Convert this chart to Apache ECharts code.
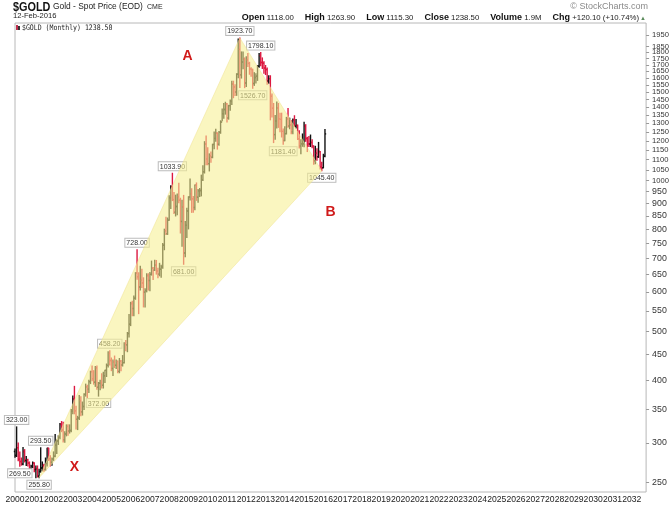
<!DOCTYPE html>
<html>
<head>
<meta charset="utf-8">
<script src="https://cdn.jsdelivr.net/npm/echarts@6/dist/echarts.min.js"></script>
<style>
html, body { margin: 0; padding: 0; background: #fff; }
#chart { width: 672px; height: 509px; }
</style>
</head>
<body>
<div id="chart"></div>
<script>
// monthly bars, Jan 2000 .. Feb 2016 (index 0 = Jan 2000)
const opens = [
  288.5, 283.3, 293.7, 278.4, 275.5, 272.3, 288.5, 276.8, 277.8, 273.6, 264.2, 269.8,
  273.6, 265.6, 266.7, 257.7, 263.2, 267.5, 270.6, 265.6, 273.0, 292.8, 279.0, 274.6,
  278.7, 282.3, 297.0, 302.7, 308.2, 326.7, 318.5, 304.5, 312.7, 323.7, 316.9, 317.7,
  347.2, 367.5, 347.7, 334.6, 336.5, 364.1, 346.0, 354.7, 375.0, 388.0, 384.0, 397.5,
  416.2, 402.8, 396.5, 423.7, 387.5, 394.6, 395.8, 390.9, 408.5, 418.6, 428.2, 452.5,
  438.0, 422.2, 434.5, 428.5, 436.3, 416.7, 436.6, 429.1, 433.8, 473.3, 470.6, 495.7,
  517.2, 568.8, 556.0, 582.9, 654.2, 643.2, 613.5, 633.2, 625.1, 599.3, 603.9, 646.8,
  632.0, 650.2, 669.0, 663.0, 678.3, 660.2, 650.9, 665.5, 672.5, 743.0, 794.4, 783.5,
  833.8, 924.1, 971.5, 916.2, 864.8, 887.4, 928.4, 913.4, 828.9, 886.9, 717.1, 814.5,
  869.8, 927.2, 941.2, 919.2, 883.8, 978.8, 926.4, 953.5, 955.3, 1003.5, 1041.0, 1182.4,
  1104.0, 1080.7, 1118.9, 1112.5, 1180.0, 1213.2, 1242.2, 1180.9, 1248.3, 1307.5, 1358.8, 1384.9,
  1421.4, 1332.5, 1409.9, 1439.1, 1556.6, 1536.2, 1500.4, 1628.3, 1825.3, 1623.7, 1722.0, 1746.4,
  1563.7, 1737.6, 1711.3, 1668.6, 1663.7, 1560.5, 1604.2, 1614.1, 1689.9, 1773.6, 1718.8, 1712.6,
  1675.3, 1663.5, 1578.9, 1595.7, 1472.1, 1393.0, 1234.6, 1313.5, 1396.2, 1327.0, 1323.6, 1253.0,
  1201.9, 1240.0, 1326.5, 1283.8, 1291.7, 1250.2, 1322.2, 1282.8, 1287.6, 1210.5, 1171.8, 1182.9,
  1183.9, 1283.7, 1212.6, 1183.1, 1182.4, 1190.6, 1171.9, 1095.2, 1133.2, 1115.1, 1142.2, 1064.2,
  1060.2, 1118.0
];
const highs = [
  292.0, 323.0, 300.0, 288.0, 280.0, 294.0, 291.0, 282.0, 278.5, 275.0, 271.0, 275.0,
  274.0, 270.0, 270.0, 266.0, 293.5, 275.0, 272.0, 280.0, 293.0, 293.0, 283.0, 280.0,
  288.0, 312.0, 304.0, 310.0, 328.0, 331.0, 330.0, 316.0, 326.0, 326.0, 326.0, 350.0,
  372.0, 389.0, 355.0, 339.0, 373.0, 371.0, 362.0, 376.0, 393.0, 391.0, 400.0, 417.0,
  427.0, 418.0, 426.0, 427.0, 396.0, 400.0, 412.0, 415.0, 419.0, 431.0, 456.0, 458.2,
  443.0, 439.0, 447.0, 439.0, 437.0, 442.0, 438.0, 448.0, 475.0, 480.0, 498.0, 541.0,
  572.0, 575.0, 589.0, 655.0, 728.0, 655.0, 675.0, 666.0, 640.0, 609.0, 652.0, 652.0,
  656.0, 691.0, 671.0, 694.0, 693.0, 669.0, 684.0, 678.0, 749.0, 800.0, 845.0, 842.0,
  932.0, 976.0, 1033.9, 947.0, 935.0, 940.0, 988.0, 922.0, 913.0, 934.0, 829.0, 881.0,
  928.0, 1007.0, 963.0, 929.0, 980.0, 989.0, 960.0, 964.0, 1025.0, 1070.0, 1195.0, 1227.0,
  1162.0, 1130.0, 1140.0, 1181.0, 1249.0, 1265.0, 1245.0, 1252.0, 1315.0, 1388.0, 1424.0, 1432.0,
  1424.0, 1412.0, 1447.0, 1576.0, 1577.0, 1552.0, 1632.0, 1913.0, 1923.7, 1804.0, 1803.0, 1755.0,
  1764.0, 1791.0, 1720.0, 1678.0, 1666.0, 1640.0, 1631.0, 1693.0, 1790.0, 1798.1, 1755.0, 1724.0,
  1695.0, 1675.0, 1617.0, 1617.0, 1488.0, 1424.0, 1348.0, 1434.0, 1424.0, 1361.0, 1362.0, 1267.0,
  1280.0, 1336.0, 1392.0, 1331.0, 1315.0, 1326.0, 1346.0, 1323.0, 1290.0, 1256.0, 1205.0, 1238.0,
  1307.0, 1292.0, 1219.0, 1224.0, 1232.0, 1205.0, 1172.0, 1170.0, 1157.0, 1191.0, 1143.0, 1088.0,
  1128.0, 1263.9
];
const lows = [
  281.0, 282.0, 276.5, 269.5, 271.0, 271.5, 275.0, 270.5, 270.0, 263.8, 263.9, 268.0,
  263.0, 255.9, 256.6, 255.8, 262.5, 264.0, 263.5, 265.0, 270.0, 277.0, 270.0, 271.0,
  277.0, 281.5, 286.0, 298.0, 306.0, 316.0, 301.5, 301.0, 310.0, 311.0, 314.0, 316.0,
  343.0, 343.0, 320.0, 319.0, 334.0, 340.0, 341.0, 350.0, 372.0, 369.0, 378.0, 394.0,
  399.0, 393.0, 389.0, 384.0, 372.0, 383.0, 386.0, 386.0, 396.0, 407.0, 425.0, 429.0,
  418.0, 409.0, 424.0, 422.0, 414.0, 414.0, 418.0, 427.0, 433.0, 458.0, 456.0, 488.0,
  514.0, 538.0, 538.0, 580.0, 636.0, 543.0, 605.0, 612.0, 560.0, 560.0, 600.0, 605.0,
  603.0, 648.0, 635.0, 662.0, 651.0, 640.0, 646.0, 642.0, 669.0, 728.0, 781.0, 781.0,
  833.0, 880.0, 912.0, 860.0, 850.0, 855.0, 903.0, 786.0, 740.0, 681.0, 705.0, 770.0,
  801.0, 915.0, 864.0, 865.0, 875.0, 913.0, 905.0, 929.0, 932.0, 1000.0, 1035.0, 1075.0,
  1075.0, 1045.0, 1087.0, 1110.0, 1157.0, 1198.0, 1155.0, 1175.0, 1242.0, 1315.0, 1331.0, 1356.0,
  1308.0, 1325.0, 1381.0, 1417.0, 1462.0, 1477.0, 1478.0, 1603.0, 1532.0, 1600.0, 1669.0, 1531.0,
  1540.0, 1688.0, 1628.0, 1613.0, 1526.7, 1547.0, 1565.0, 1583.0, 1682.0, 1692.0, 1672.0, 1636.0,
  1626.0, 1555.0, 1563.0, 1321.0, 1338.0, 1190.0, 1208.0, 1272.0, 1276.0, 1251.0, 1221.0, 1181.4,
  1200.0, 1238.0, 1277.0, 1268.0, 1240.0, 1240.0, 1282.0, 1272.0, 1207.0, 1161.0, 1131.0, 1170.0,
  1167.0, 1197.0, 1142.0, 1169.0, 1169.0, 1162.0, 1077.0, 1080.0, 1097.0, 1112.0, 1054.0, 1045.4,
  1060.0, 1115.3
];
const closes = [
  283.3, 293.7, 278.4, 275.5, 272.3, 288.5, 276.8, 277.8, 273.6, 264.2, 269.8, 273.6,
  265.6, 266.7, 257.7, 263.2, 267.5, 270.6, 265.6, 273.0, 292.8, 279.0, 274.6, 278.7,
  282.3, 297.0, 302.7, 308.2, 326.7, 318.5, 304.5, 312.7, 323.7, 316.9, 317.7, 347.2,
  367.5, 347.7, 334.6, 336.5, 364.1, 346.0, 354.7, 375.0, 388.0, 384.0, 397.5, 416.2,
  402.8, 396.5, 423.7, 387.5, 394.6, 395.8, 390.9, 408.5, 418.6, 428.2, 452.5, 438.0,
  422.2, 434.5, 428.5, 436.3, 416.7, 436.6, 429.1, 433.8, 473.3, 470.6, 495.7, 517.2,
  568.8, 556.0, 582.9, 654.2, 643.2, 613.5, 633.2, 625.1, 599.3, 603.9, 646.8, 632.0,
  650.2, 669.0, 663.0, 678.3, 660.2, 650.9, 665.5, 672.5, 743.0, 794.4, 783.5, 833.8,
  924.1, 971.5, 916.2, 864.8, 887.4, 928.4, 913.4, 828.9, 886.9, 717.1, 814.5, 869.8,
  927.2, 941.2, 919.2, 883.8, 978.8, 926.4, 953.5, 955.3, 1003.5, 1041.0, 1182.4, 1104.0,
  1080.7, 1118.9, 1112.5, 1180.0, 1213.2, 1242.2, 1180.9, 1248.3, 1307.5, 1358.8, 1384.9, 1421.4,
  1332.5, 1409.9, 1439.1, 1556.6, 1536.2, 1500.4, 1628.3, 1825.3, 1623.7, 1722.0, 1746.4, 1563.7,
  1737.6, 1711.3, 1668.6, 1663.7, 1560.5, 1604.2, 1614.1, 1689.9, 1773.6, 1718.8, 1712.6, 1675.3,
  1663.5, 1578.9, 1595.7, 1472.1, 1393.0, 1234.6, 1313.5, 1396.2, 1327.0, 1323.6, 1253.0, 1201.9,
  1240.0, 1326.5, 1283.8, 1291.7, 1250.2, 1322.2, 1282.8, 1287.6, 1210.5, 1171.8, 1182.9, 1183.9,
  1283.7, 1212.6, 1183.1, 1182.4, 1190.6, 1171.9, 1095.2, 1133.2, 1115.1, 1142.2, 1064.2, 1060.2,
  1118.4, 1238.5
];

// swing labels (month index, price)
const peakMonths = [1, 16, 59, 76, 98, 140, 153];
const peakValues = [323.0, 293.5, 458.2, 728.0, 1033.9, 1923.7, 1798.1];
const troughMonths = [3, 15, 52, 105, 148, 167, 191];
const troughValues = [269.5, 255.8, 372.0, 681.0, 1526.7, 1181.4, 1045.4];

// X-A-B pattern
const xabMonths = [15, 140, 191];
const xabValues = [255.8, 1923.7, 1045.4];
const xabNames = ['X', 'A', 'B'];
const xabLetterMonths = [37, 107.5, 196.5];
const xabLetterValues = [269, 1770, 865];

const yTicks = [250, 300, 350, 400, 450, 500, 550, 600, 650, 700, 750, 800, 850, 900, 950,
  1000, 1050, 1100, 1150, 1200, 1250, 1300, 1350, 1400, 1450, 1500, 1550, 1600, 1650, 1700,
  1750, 1800, 1850, 1900, 1950];
const xYears = [];
for (let y = 2000; y <= 2032; y++) xYears.push(y);

const toX = m => 2000 + m / 12;
const RED = '#dc1840';
const BLACK = '#111';
const FONT = 'Liberation Sans';

const bars = opens.map((o, i) => [toX(i), o, highs[i], lows[i], closes[i],
  i > 0 && closes[i] < closes[i - 1] ? 1 : 0]);

const chart = echarts.init(document.getElementById('chart'));

function swingLabel(below) {
  return (params, api) => {
    const p = api.coord([api.value(0), api.value(1)]);
    return {
      type: 'text', x: p[0], y: below ? p[1] + 3 : p[1] - 3,
      style: {
        text: api.value(1).toFixed(2), font: '7px ' + FONT, fill: '#333',
        align: 'center', verticalAlign: below ? 'top' : 'bottom',
        backgroundColor: '#fff', borderColor: '#bbb', borderWidth: 1, padding: [1, 1, 0, 1]
      }
    };
  };
}

chart.setOption({
  animation: false,
  backgroundColor: '#fff',
  grid: { left: 15, right: 25, top: 23, bottom: 17, show: true, borderColor: '#b8b8b8', borderWidth: 1 },
  xAxis: {
    type: 'value', min: 2000, max: 2032.746,
    axisLine: { show: false }, axisTick: { show: false }, splitLine: { show: false },
    axisLabel: {
      customValues: xYears, formatter: v => String(Math.round(v)),
      showMinLabel: true, showMaxLabel: true,
      fontSize: 8.6, color: '#222', fontFamily: FONT, margin: 3
    }
  },
  yAxis: {
    type: 'log', logBase: 10, min: 239.6, max: 2059.7, position: 'right',
    axisLine: { show: false }, splitLine: { show: false },
    axisTick: { show: true, inside: false, length: 3, customValues: yTicks, lineStyle: { color: '#999' } },
    axisLabel: {
      customValues: yTicks, showMinLabel: true, showMaxLabel: true,
      formatter: v => (v >= 1000 ? '{s|' + Math.round(v) + '}' : String(Math.round(v))),
      rich: { s: { fontSize: 7.6, color: '#333', fontFamily: FONT } },
      fontSize: 8.8, color: '#333', fontFamily: FONT, margin: 6
    }
  },
  graphic: [
    { type: 'text', left: 13, top: 1, scaleX: 0.87, style: { text: '$GOLD', font: 'bold 12.5px ' + FONT, fill: '#111' } },
    { type: 'text', left: 53, top: 3, style: { text: 'Gold - Spot Price (EOD)', font: '8.4px ' + FONT, fill: '#222' } },
    { type: 'text', left: 147, top: 4, style: { text: 'CME', font: '7px ' + FONT, fill: '#222' } },
    { type: 'text', left: 13, top: 12, style: { text: '12-Feb-2016', font: '7.6px ' + FONT, fill: '#222' } },
    { type: 'text', right: 24, top: 2, style: { text: '\u00a9 StockCharts.com', font: '9px ' + FONT, fill: '#8a8a8a' } },
    {
      type: 'text', right: 33, top: 13,
      style: {
        text: '{b|Open} 1118.00{b|High} 1263.90{b|Low} 1115.30{b|Close} 1238.50{b|Volume} 1.9M{b|Chg} +120.10 (+10.74%)',
        font: '7.8px ' + FONT, fill: '#222',
        rich: { b: { font: 'bold 9px ' + FONT, fill: '#111', padding: [0, 0, 0, 11] } }
      }
    },
    { type: 'text', right: 26, top: 15, style: { text: '\u25b2', font: '6px ' + FONT, fill: '#5a8a5a' } },
    { type: 'rect', left: 16, top: 25, shape: { width: 2, height: 5 }, style: { fill: '#c03050' } },
    { type: 'rect', left: 18, top: 26, shape: { width: 2, height: 4 }, style: { fill: '#333' } },
    { type: 'text', left: 22, top: 24, scaleX: 0.86, style: { text: '$GOLD (Monthly) 1238.50', font: '7.6px DejaVu Sans Mono', fill: '#222' } }
  ],
  series: [
    {
      type: 'custom', name: 'ohlc', z: 2,
      data: bars,
      renderItem: (params, api) => {
        const x = api.value(0);
        const o = api.coord([x, api.value(1)]);
        const h = api.coord([x, api.value(2)]);
        const l = api.coord([x, api.value(3)]);
        const c = api.coord([x, api.value(4)]);
        const color = api.value(5) ? RED : BLACK;
        const px = h[0];
        const st = { stroke: color, lineWidth: 1.4 };
        return {
          type: 'group', children: [
            { type: 'line', shape: { x1: px, y1: h[1] - 0.5, x2: px, y2: l[1] + 0.5 }, style: st },
            { type: 'line', shape: { x1: px - 1.2, y1: o[1], x2: px, y2: o[1] }, style: st },
            { type: 'line', shape: { x1: px, y1: c[1], x2: px + 1.2, y2: c[1] }, style: st }
          ]
        };
      }
    },
    {
      type: 'custom', name: 'peaks', z: 3,
      data: peakMonths.map((m, i) => [toX(m), peakValues[i]]),
      renderItem: swingLabel(false)
    },
    {
      type: 'custom', name: 'troughs', z: 3,
      data: troughMonths.map((m, i) => [toX(m), troughValues[i]]),
      renderItem: swingLabel(true)
    },
    {
      type: 'custom', name: 'xab', z: 10,
      data: xabMonths.map((m, i) => [toX(m), xabValues[i]]),
      renderItem: (params, api) => {
        if (params.dataIndex !== 0) return null;
        const pts = xabMonths.map((m, i) => api.coord([toX(m), xabValues[i]]));
        return {
          type: 'polygon', shape: { points: pts },
          style: { fill: 'rgba(247, 240, 147, 0.58)', stroke: 'rgba(240, 225, 140, 0.5)', lineWidth: 1 }
        };
      }
    },
    {
      type: 'custom', name: 'letters', z: 11,
      data: xabLetterMonths.map((m, i) => [toX(m), xabLetterValues[i]]),
      renderItem: (params, api) => {
        const p = api.coord([api.value(0), api.value(1)]);
        return {
          type: 'text', x: p[0], y: p[1],
          style: {
            text: xabNames[params.dataIndex], font: 'bold 14px ' + FONT, fill: '#d01a1a',
            align: 'center', verticalAlign: 'middle'
          }
        };
      }
    }
  ]
});
</script>
</body>
</html>
